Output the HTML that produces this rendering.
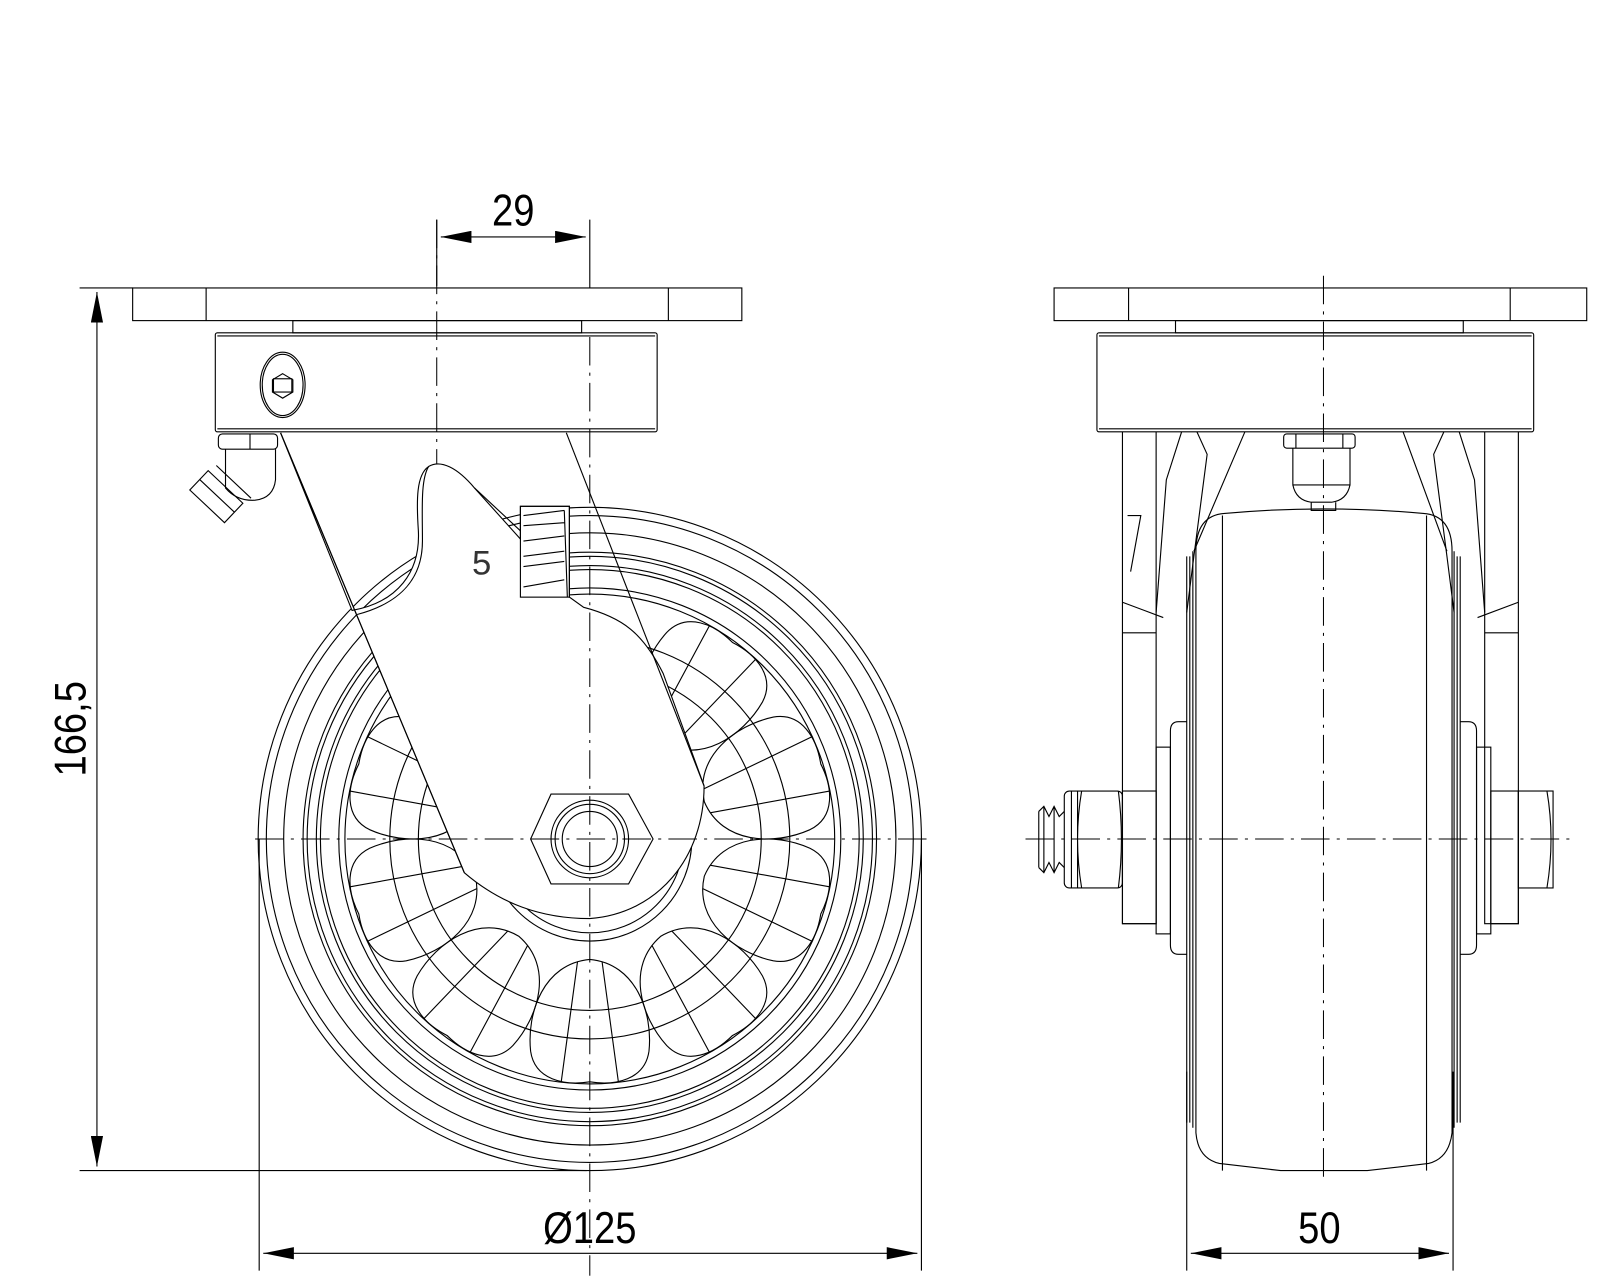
<!DOCTYPE html>
<html><head><meta charset="utf-8"><style>html,body{margin:0;padding:0;background:#fff}svg{display:block}</style></head><body>
<svg width="1600" height="1280" viewBox="0 0 1568 1254" xmlns="http://www.w3.org/2000/svg" font-family="Liberation Sans, sans-serif">
<defs>
<marker id="a" viewBox="0 0 20 8" refX="20" refY="4" markerWidth="30" markerHeight="12" markerUnits="userSpaceOnUse" orient="auto-start-reverse"><path d="M0,0L20,4L0,8z" fill="#000"/></marker>
</defs>
<g fill="none" stroke="#000" stroke-width="1.1">
<!-- ===== LEFT VIEW ===== -->
<g transform="translate(578,822)">
<circle r="325"/><circle r="317"/><circle r="300"/><circle r="281"/><circle r="277"/><circle r="268"/><circle r="264"/><circle r="246"/><circle r="240"/>
<circle r="196"/><circle r="168"/>
<g id="sp"><path d="M0,118 C-45,122 -62,170 -58,208 C-54,236 -25,242 0,238 C25,242 54,236 58,208 C62,170 45,122 0,118z"/><path d="M-12,120 L-28,238 M12,120 L28,238"/></g>
<use href="#sp" transform="rotate(36)"/><use href="#sp" transform="rotate(-36)"/><use href="#sp" transform="rotate(72)"/><use href="#sp" transform="rotate(-72)"/><use href="#sp" transform="rotate(108)"/><use href="#sp" transform="rotate(-108)"/><use href="#sp" transform="rotate(144)"/><use href="#sp" transform="rotate(-144)"/>
<circle r="100" fill="#fff"/><circle r="92"/>
</g>
<!-- fork -->
<path d="M275,424 L345,598 C390,590 412,560 410,520 C408,490 408,465 420,457 C432,450 448,458 465,478 L510,528 L510,496 L558,496 L558,585 L572,595 C610,605 630,620 650,660 L690,770 C690,840 645,895 578,900 C530,900 490,885 455,855 Z" fill="#fff"/>
<path d="M555,424 L690,770"/>
<path d="M275,424 L455,855"/>
<path d="M420,457 C412,470 414,500 414,530 C414,565 395,590 350,602"/>
<path d="M465,478 L510,520"/>
<rect x="510" y="496" width="48" height="89"/>
<path d="M513,505 L553,500 M513,515 L553,512 M513,530 L553,525 M513,545 L553,540 M513,555 L553,550 M513,575 L553,568 M553,500 L556,585"/>
<polygon points="520,822 540,778 616,778 640,822 616,866 540,866" fill="#fff"/>
<circle cx="578" cy="822" r="38"/><circle cx="578" cy="822" r="34"/><circle cx="578" cy="822" r="27"/>
<!-- plate -->
<rect x="130" y="282" width="597" height="32"/><path d="M202,282V314M655,282V314"/>
<rect x="287" y="314" width="283" height="12"/>
<rect x="211" y="326" width="433" height="97" rx="2"/><path d="M213,329H642M213,420H642"/>
<ellipse cx="277" cy="377" rx="22" ry="32"/><ellipse cx="277" cy="377" rx="20" ry="30"/>
<polygon points="277,366 287,372 287,384 277,390 267,384 267,372"/><rect x="268" y="371" width="18" height="13"/>
<rect x="214" y="425" width="58" height="15" rx="4"/><path d="M245,425V440"/>
<path d="M221,440V478 Q232,491 250,490 Q268,488 270,470V440"/>
<path d="M204,461 L238,493 L220,512 L186,480 Z M196,470 L230,502 M212,456 L246,488"/>
<!-- ===== RIGHT VIEW ===== -->
<rect x="1033" y="282" width="522" height="32"/><path d="M1106,282V314M1480,282V314"/>
<rect x="1152" y="314" width="282" height="12"/>
<rect x="1075" y="326" width="428" height="97" rx="2"/><path d="M1077,329H1501M1077,420H1501"/>
<path d="M1100,423V905H1133V423M1455,423V905H1488V423"/>
<path d="M1100,620H1133M1455,620H1488"/>
<path d="M1158,423L1143,470L1133,600M1430,423L1445,470L1455,600"/>
<path d="M1173,423L1183,445L1170,545L1163,600M1415,423L1405,445L1418,545L1425,600"/>
<path d="M1220,423L1170,540M1375,423L1418,540"/>
<path d="M1100,590L1140,605M1488,590L1448,605"/>
<path d="M1105,505H1118L1108,560"/>
<rect x="1258" y="425" width="70" height="14" rx="3"/><path d="M1270,425V439M1316,425V439"/>
<path d="M1267,439V475H1323V439M1267,475Q1270,490 1285,492H1305Q1320,490 1323,475M1285,492V500H1309V492"/>
<path d="M1172,540 Q1172,505 1200,503 Q1297,494 1395,503 Q1423,505 1423,540 V1110 Q1420,1135 1400,1140 L1340,1147 H1255 L1195,1140 Q1174,1135 1172,1110 Z"/>
<path d="M1198,505V1147M1398,505V1147"/>
<path d="M1163,545V1100M1166,545V1100M1169,540V1105M1431,545V1100M1428,545V1100M1425,540V1105"/>
<path d="M1163,707H1155Q1147,707 1147,716V926Q1147,935 1155,935H1163"/>
<path d="M1431,707H1439Q1447,707 1447,716V926Q1447,935 1439,935H1431"/>
<rect x="1133" y="732" width="14" height="183"/><rect x="1447" y="732" width="14" height="183"/>
<rect x="1100" y="775" width="33" height="130"/><rect x="1461" y="775" width="27" height="130"/>
<rect x="1043" y="775" width="57" height="95" rx="5"/><path d="M1050,775V870M1056,775V870M1096,775Q1102,822 1096,870M1060,775Q1052,822 1060,870"/>
<rect x="1488" y="775" width="34" height="95"/><path d="M1516,775Q1524,822 1516,870"/>
<path d="M1018,795 L1023,790 L1028,800 L1033,790 L1038,800 L1043,795 M1018,850 L1023,855 L1028,845 L1033,855 L1038,845 L1043,850 M1018,795V850M1023,790V855M1033,790V855"/>
</g>
<g stroke="#000" stroke-width="1" stroke-dasharray="28 7 3 7" fill="none">
<path d="M428,215V455"/><path d="M578,330V1250"/><path d="M250,822H915"/>
<path d="M1297,270V1160"/><path d="M1005,822H1545"/>
</g>
<g stroke="#000" stroke-width="1.1" fill="none">
<path d="M428,215V280M578,215V282"/>
<path d="M432,232H574" marker-start="url(#a)" marker-end="url(#a)"/>
<path d="M78,282H130M78,1147H575"/>
<path d="M95,286V1143" marker-start="url(#a)" marker-end="url(#a)"/>
<path d="M254,822V1245M903,822V1245"/>
<path d="M258,1228H899" marker-start="url(#a)" marker-end="url(#a)"/>
<path d="M1163,1050V1245M1424,1050V1245"/>
<path d="M1167,1228H1420" marker-start="url(#a)" marker-end="url(#a)"/>
</g>
<g fill="#000" font-size="44" text-anchor="middle">
<text transform="translate(503,221) scale(0.85,1)">29</text>
<text transform="translate(578,1218) scale(0.85,1)">Ø125</text>
<text transform="translate(1293,1218) scale(0.85,1)">50</text>
<text transform="translate(84,714) rotate(-90) scale(0.85,1)">166,5</text>
<text x="472" y="563" font-size="34" fill="#333">5</text>
</g>
</svg>
</body></html>
